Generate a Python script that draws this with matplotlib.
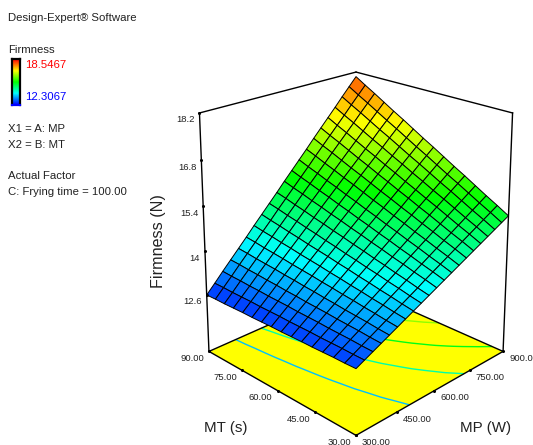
import numpy as np
import matplotlib
matplotlib.use("Agg")
import matplotlib.pyplot as plt
from matplotlib.colors import LinearSegmentedColormap
from mpl_toolkits.mplot3d import proj3d

plt.rcParams['font.family'] = ['Liberation Sans', 'DejaVu Sans']

W, H = 533, 445

mp_values = [300, 330, 360, 390, 420, 450, 480, 510, 540, 570, 600, 630, 660, 690, 720, 750, 780, 810, 840, 870, 900]
mt_values = [30, 34, 38, 42, 46, 50, 54, 58, 62, 66, 70, 74, 78, 82, 86, 90]
# one row per MT value
firmness = [
    [12.70, 12.82, 12.94, 13.06, 13.18, 13.30, 13.42, 13.54, 13.66, 13.78, 13.90, 14.02, 14.14, 14.26, 14.38, 14.50, 14.62, 14.74, 14.86, 14.98, 15.10],
    [12.69, 12.82, 12.95, 13.08, 13.21, 13.34, 13.47, 13.60, 13.73, 13.86, 14.00, 14.13, 14.26, 14.39, 14.52, 14.65, 14.78, 14.91, 15.04, 15.17, 15.30],
    [12.69, 12.83, 12.97, 13.11, 13.25, 13.39, 13.53, 13.67, 13.81, 13.95, 14.09, 14.23, 14.37, 14.51, 14.65, 14.79, 14.93, 15.07, 15.21, 15.35, 15.49],
    [12.68, 12.83, 12.98, 13.13, 13.28, 13.43, 13.58, 13.73, 13.88, 14.03, 14.19, 14.34, 14.49, 14.64, 14.79, 14.94, 15.09, 15.24, 15.39, 15.54, 15.69],
    [12.67, 12.83, 12.99, 13.15, 13.31, 13.48, 13.64, 13.80, 13.96, 14.12, 14.28, 14.44, 14.60, 14.76, 14.92, 15.09, 15.25, 15.41, 15.57, 15.73, 15.89],
    [12.67, 12.84, 13.01, 13.18, 13.35, 13.52, 13.69, 13.86, 14.03, 14.20, 14.38, 14.55, 14.72, 14.89, 15.06, 15.23, 15.40, 15.57, 15.74, 15.91, 16.08],
    [12.66, 12.84, 13.02, 13.20, 13.38, 13.57, 13.75, 13.93, 14.11, 14.29, 14.47, 14.65, 14.83, 15.01, 15.19, 15.38, 15.56, 15.74, 15.92, 16.10, 16.28],
    [12.65, 12.84, 13.03, 13.22, 13.42, 13.61, 13.80, 13.99, 14.18, 14.37, 14.57, 14.76, 14.95, 15.14, 15.33, 15.52, 15.71, 15.90, 16.10, 16.29, 16.48],
    [12.65, 12.85, 13.05, 13.25, 13.45, 13.66, 13.86, 14.06, 14.26, 14.46, 14.66, 14.86, 15.06, 15.26, 15.46, 15.67, 15.87, 16.07, 16.27, 16.47, 16.67],
    [12.64, 12.85, 13.06, 13.27, 13.49, 13.70, 13.91, 14.12, 14.33, 14.54, 14.76, 14.97, 15.18, 15.39, 15.60, 15.81, 16.02, 16.23, 16.45, 16.66, 16.87],
    [12.63, 12.85, 13.07, 13.30, 13.52, 13.74, 13.96, 14.18, 14.41, 14.63, 14.85, 15.07, 15.29, 15.52, 15.74, 15.96, 16.18, 16.40, 16.63, 16.85, 17.07],
    [12.63, 12.86, 13.09, 13.32, 13.56, 13.79, 14.02, 14.25, 14.48, 14.71, 14.95, 15.18, 15.41, 15.64, 15.87, 16.10, 16.33, 16.56, 16.80, 17.03, 17.26],
    [12.62, 12.86, 13.10, 13.35, 13.59, 13.83, 14.07, 14.31, 14.56, 14.80, 15.04, 15.28, 15.52, 15.77, 16.01, 16.25, 16.49, 16.73, 16.98, 17.22, 17.46],
    [12.61, 12.86, 13.12, 13.37, 13.62, 13.87, 14.13, 14.38, 14.63, 14.88, 15.14, 15.39, 15.64, 15.89, 16.15, 16.40, 16.65, 16.90, 17.16, 17.41, 17.66],
    [12.61, 12.87, 13.13, 13.40, 13.66, 13.92, 14.18, 14.44, 14.71, 14.97, 15.23, 15.49, 15.75, 16.02, 16.28, 16.54, 16.80, 17.06, 17.33, 17.59, 17.85],
    [12.60, 12.87, 13.15, 13.42, 13.69, 13.96, 14.24, 14.51, 14.78, 15.05, 15.33, 15.60, 15.87, 16.14, 16.42, 16.69, 16.96, 17.23, 17.51, 17.78, 18.05],
]
contour_levels = [13.5, 14.4, 15.3, 16.3, 17.2]

mp_ticks = [300, 450, 600, 750, 900]
mt_ticks = [30, 45, 60, 75, 90]
z_ticks = [12.6, 14, 15.4, 16.8, 18.2]
mp_labels = ["300.00", "450.00", "600.00", "750.00", "900.00"]
mt_labels = ["30.00", "45.00", "60.00", "75.00", "90.00"]
z_labels = ["12.6", "14", "15.4", "16.8", "18.2"]

z_low, z_high = 12.3067, 18.5467
z_floor, z_top = 10.75, 18.2
z_world_top = 27.165  # above the drawn box, it moves the point the camera looks at

rainbow = LinearSegmentedColormap.from_list("de", ["#0000ff", "#00ffff", "#00ff00", "#ffff00", "#ff0000"])


def norm(v):
    return (np.asarray(v) - z_low) / (z_high - z_low)


fig = plt.figure(figsize=(W / 100, H / 100), dpi=100)

# legend text on the left
def label(x, y, s, **kw):
    kw.setdefault("fontsize", 8.2)
    kw.setdefault("va", "center")
    kw.setdefault("color", "#222222")
    fig.text(x / W, 1 - y / H, s, **kw)


label(8, 18, "Design-Expert® Software")
label(8, 50, "Firmness")
label(25, 65, "18.5467", color="#ff0000")
label(25, 97, "12.3067", color="#0000ff")
label(8, 129, "X1 = A: MP")
label(8, 145, "X2 = B: MT")
label(8, 176, "Actual Factor")
label(8, 192, "C: Frying time = 100.00")
label(158, 241, "Firmness (N)", fontsize=11.6, rotation=90, ha="center")
label(226, 428, "MT (s)", fontsize=10.9, ha="center")
label(486, 428, "MP (W)", fontsize=10.9, ha="center")

cax = fig.add_axes([12 / W, 1 - 105 / H, 8 / W, 46 / H])
cax.imshow(np.linspace(1, 0, 64).reshape(-1, 1), cmap=rainbow, aspect="auto")
cax.set_xticks([])
cax.set_yticks([])
for s in cax.spines.values():
    s.set_linewidth(1.6)
cax.spines["bottom"].set_color("#0000ff")

# 3d part
ax = fig.add_axes([22.9 / W, 24.9 / H, 648.7 / W, 648.7 / H], projection="3d", facecolor="none")
ax.computed_zorder = False
ax.set_proj_type("persp", focal_length=0.3217)
ax.view_init(elev=15.9, azim=-135)
ax.set_box_aspect((1, 1, 2.644))
ax.set_axis_off()

X, Y = np.meshgrid(mp_values, mt_values)
Z = np.array(firmness)

fx, fy = np.meshgrid([mp_values[0], mp_values[-1]], [mt_values[0], mt_values[-1]])
ax.plot_surface(fx, fy, np.full(fx.shape, z_floor), color="#ffff00", shade=False, linewidth=0, zorder=1)

cs = ax.contour(X, Y, Z, levels=contour_levels, zdir="z", offset=z_floor,
                colors=[rainbow(norm(l)) for l in contour_levels], linewidths=1.0)
cs.set_zorder(2)

cells = (Z[:-1, :-1] + Z[1:, :-1] + Z[:-1, 1:] + Z[1:, 1:]) / 4
ax.plot_surface(X, Y, Z, facecolors=rainbow(norm(cells)), rstride=1, cstride=1, shade=False,
                edgecolor="black", linewidth=0.7, zorder=3)

mp0, mp1 = mp_values[0], mp_values[-1]
mt0, mt1 = mt_values[0], mt_values[-1]
box_edges = [
    ([mp0, mp0], [mt1, mt0], [z_floor, z_floor]),
    ([mp0, mp1], [mt0, mt0], [z_floor, z_floor]),
    ([mp0, mp1], [mt1, mt1], [z_floor, z_floor]),
    ([mp1, mp1], [mt1, mt0], [z_floor, z_floor]),
    ([mp0, mp0], [mt1, mt1], [z_floor, z_top]),
    ([mp1, mp1], [mt0, mt0], [z_floor, z_top]),
    ([mp0, mp1], [mt1, mt1], [z_top, z_top]),
    ([mp1, mp1], [mt1, mt0], [z_top, z_top]),
]
for i, (ex, ey, ez) in enumerate(box_edges):
    # the back floor edges sit under the surface
    ax.plot(ex, ey, ez, color="black", linewidth=1.0, zorder=2.5 if i in (2, 3) else 4)

ax.set_xlim(mp0, mp1)
ax.set_ylim(mt0, mt1)
ax.set_zlim(z_floor, z_world_top)

M = ax.get_proj()


def tick(x, y, z, s, dx, dy, ha):
    ax.plot([x], [y], [z], marker="o", markersize=1.2, color="black", zorder=5)
    px, py, _ = proj3d.proj_transform(x, y, z, M)
    ax.annotate(s, (px, py), xytext=(dx, dy), textcoords="offset pixels", ha=ha, va="center",
                fontsize=6.8, color="#222222", annotation_clip=False)


for v, s in zip(z_ticks, z_labels):
    tick(mp0, mt1, v, s, -5, -7, "right")
for v, s in zip(mt_ticks, mt_labels):
    tick(mp0, v, z_floor, s, -5, -7, "right")
for v, s in zip(mp_ticks, mp_labels):
    tick(v, mt0, z_floor, s, 6, -7, "left")

# the axes box ends above the bottom of the figure
for a in ax.get_children():
    a.set_clip_on(False)

fig.savefig("out.png", dpi=100)
